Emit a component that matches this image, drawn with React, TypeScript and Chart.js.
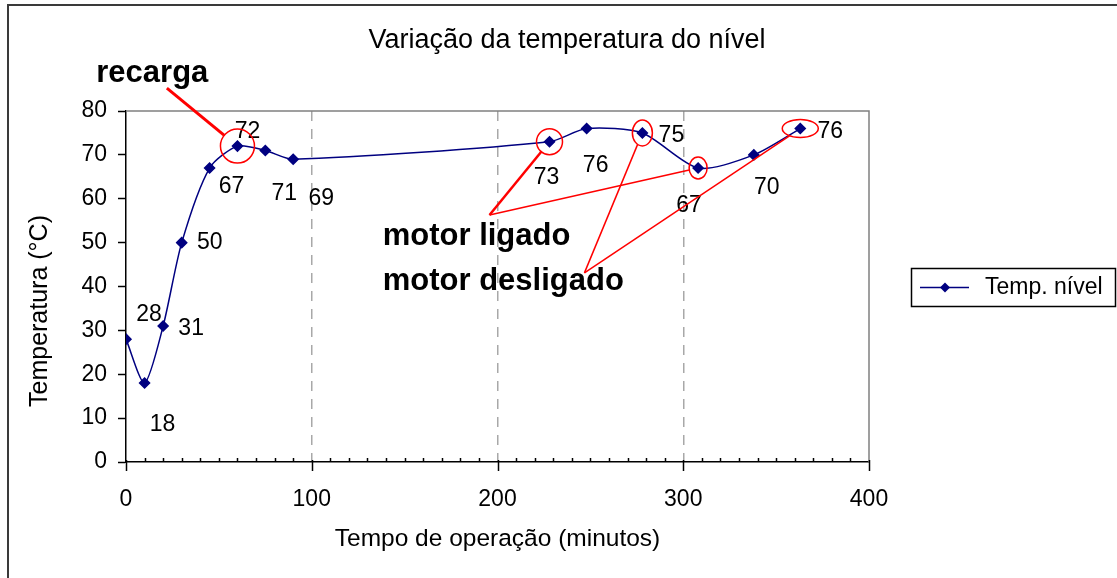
import React, { useEffect, useRef } from 'react';
import { Chart, registerables } from 'chart.js';

Chart.register(...registerables);

// ---- data ----
const times = [0, 10, 20, 30, 45, 60, 75, 90, 228, 248, 278, 308, 338, 363];
const temps = [28, 18, 31, 50, 67, 72, 71, 69, 73, 76, 75, 67, 70, 76];
const seriesName = 'Temp. nível';
const chartTitle = 'Variação da temperatura do nível';
const xAxisTitle = 'Tempo de operação (minutos)';
const yAxisTitle = 'Temperatura (°C)';
const xMin = 0;
const xMax = 400;
const xMajorStep = 100;
const xMinorStep = 10;
const yMin = 0;
const yMax = 80;
const yStep = 10;
const dashedGridValues = [100, 200, 300];

// data-label offsets (px) from each point
const labelOffsets: [number, number][] = [
  [23, -24], [18, 42], [28, 3], [28, 0], [22, 19], [10, -14], [19, 43],
  [28, 39], [-3, 36], [9, 37], [29, 3], [-9, 38], [13, 33], [30, 3],
];

// red rings around points (index, radii px)
const rings = [
  { i: 5, rx: 17, ry: 17 },
  { i: 8, rx: 13, ry: 13 },
  { i: 10, rx: 10, ry: 13 },
  { i: 11, rx: 9, ry: 11 },
  { i: 13, rx: 18, ry: 9 },
];

// callouts: text anchor and leader origin in data units
const callouts = [
  { text: 'recarga', tx: -16, ty: 86.6, fx: 22, fy: 85.2, targets: [5], widths: [3] },
  { text: 'motor ligado', tx: 138.2, ty: 49.5, fx: 195.7, fy: 56.3, targets: [8, 11], widths: [2.5, 1.5] },
  { text: 'motor desligado', tx: 138.2, ty: 39.2, fx: 246.8, fy: 43.1, targets: [10, 13], widths: [1.5, 1.5] },
];

const FONT = '"Liberation Sans", Arial, Helvetica, sans-serif';
const NAVY = '#000080';
const RED = '#ff0000';

export default function App() {
  const ref = useRef<HTMLCanvasElement>(null);

  useEffect(() => {
    const canvas = ref.current;
    if (!canvas) return;

    const ringFor = (i: number) => rings.find((r) => r.i === i);

    const decor = {
      id: 'decor',
      beforeDraw(chart: any) {
        const { ctx, width, height } = chart;
        ctx.save();
        ctx.fillStyle = '#ffffff';
        ctx.fillRect(0, 0, width, height);
        ctx.strokeStyle = '#3a3a3a';
        ctx.lineWidth = 2;
        ctx.beginPath();
        ctx.moveTo(8, height);
        ctx.lineTo(8, 5);
        ctx.lineTo(width, 5);
        ctx.stroke();
        ctx.restore();
      },
      beforeDatasetsDraw(chart: any) {
        const { ctx, chartArea: a } = chart;
        const xs = chart.scales.x;
        ctx.save();
        ctx.strokeStyle = '#808080';
        ctx.lineWidth = 1.5;
        ctx.beginPath();
        ctx.moveTo(a.left, a.top);
        ctx.lineTo(a.right, a.top);
        ctx.lineTo(a.right, a.bottom);
        ctx.stroke();
        ctx.strokeStyle = '#000';
        ctx.lineWidth = 1.5;
        for (let v = xMin; v <= xMax; v += xMinorStep) {
          const px = Math.round(xs.getPixelForValue(v)) + 0.5;
          const major = v % xMajorStep === 0;
          ctx.beginPath();
          ctx.moveTo(px, major ? a.bottom - 2 : a.bottom - 4);
          ctx.lineTo(px, major ? a.bottom + 9 : a.bottom);
          ctx.stroke();
        }
        ctx.restore();
      },
      afterDatasetsDraw(chart: any) {
        const { ctx, chartArea: a } = chart;
        const xs = chart.scales.x;
        const ys = chart.scales.y;
        const meta = chart.getDatasetMeta(0);
        ctx.save();

        // data labels
        ctx.fillStyle = '#000';
        ctx.font = `23px ${FONT}`;
        ctx.textAlign = 'center';
        ctx.textBaseline = 'middle';
        meta.data.forEach((pt: any, i: number) => {
          const [dx, dy] = labelOffsets[i] || [0, 0];
          ctx.fillText(String(temps[i]), pt.x + dx, pt.y + dy);
        });

        // rings
        ctx.strokeStyle = RED;
        ctx.lineWidth = 1.5;
        rings.forEach((r) => {
          const pt = meta.data[r.i];
          ctx.beginPath();
          ctx.ellipse(pt.x, pt.y, r.rx, r.ry, 0, 0, Math.PI * 2);
          ctx.stroke();
        });

        // callouts
        callouts.forEach((c) => {
          const ox = xs.getPixelForValue(c.fx);
          const oy = ys.getPixelForValue(c.fy);
          c.targets.forEach((ti, k) => {
            const pt = meta.data[ti];
            const r = ringFor(ti);
            let ex = pt.x;
            let ey = pt.y;
            if (r) {
              const dx = ox - pt.x;
              const dy = oy - pt.y;
              const s = 1 / Math.sqrt((dx / r.rx) ** 2 + (dy / r.ry) ** 2);
              ex = pt.x + dx * s;
              ey = pt.y + dy * s;
            }
            ctx.strokeStyle = RED;
            ctx.lineWidth = c.widths[k];
            ctx.beginPath();
            ctx.moveTo(ox, oy);
            ctx.lineTo(ex, ey);
            ctx.stroke();
          });
          ctx.fillStyle = '#000';
          ctx.font = `bold 31px ${FONT}`;
          ctx.textAlign = 'left';
          ctx.textBaseline = 'alphabetic';
          ctx.fillText(c.text, xs.getPixelForValue(c.tx), ys.getPixelForValue(c.ty));
        });

        // title
        ctx.fillStyle = '#000';
        ctx.font = `27px ${FONT}`;
        ctx.textAlign = 'center';
        ctx.textBaseline = 'middle';
        ctx.fillText(chartTitle, 567, 41);

        // y axis title
        ctx.save();
        ctx.translate(40, 311);
        ctx.rotate(-Math.PI / 2);
        ctx.font = `25px ${FONT}`;
        ctx.fillText(yAxisTitle, 0, 0);
        ctx.restore();

        // legend
        const cy = (a.top + a.bottom) / 2 + 1;
        const lx = a.right + 42;
        ctx.strokeStyle = '#000';
        ctx.lineWidth = 1.5;
        ctx.strokeRect(lx + 0.5, cy - 19, 204, 38);
        ctx.strokeStyle = NAVY;
        ctx.lineWidth = 1.5;
        ctx.beginPath();
        ctx.moveTo(lx + 9, cy);
        ctx.lineTo(lx + 58, cy);
        ctx.stroke();
        ctx.fillStyle = NAVY;
        ctx.beginPath();
        ctx.moveTo(lx + 34, cy - 5);
        ctx.lineTo(lx + 39, cy);
        ctx.lineTo(lx + 34, cy + 5);
        ctx.lineTo(lx + 29, cy);
        ctx.closePath();
        ctx.fill();
        ctx.fillStyle = '#000';
        ctx.font = `23px ${FONT}`;
        ctx.textAlign = 'left';
        ctx.textBaseline = 'middle';
        ctx.fillText(seriesName, lx + 74, cy);

        ctx.restore();
      },
    };

    const chart = new Chart(canvas, {
      type: 'line',
      data: {
        datasets: [
          {
            label: seriesName,
            data: times.map((t, i) => ({ x: t, y: temps[i] })),
            borderColor: NAVY,
            backgroundColor: NAVY,
            borderWidth: 1.5,
            pointStyle: 'rectRot',
            pointRadius: 5,
            pointBackgroundColor: NAVY,
            pointBorderColor: NAVY,
            tension: 0.25,
            fill: false,
          },
        ],
      },
      options: {
        responsive: false,
        animation: false,
        events: [],
        layout: { padding: { top: 111, right: 248, left: 0, bottom: 0 } },
        plugins: {
          legend: { display: false },
          title: { display: false },
          tooltip: { enabled: false },
        },
        scales: {
          x: {
            type: 'linear',
            min: xMin,
            max: xMax,
            afterFit: (s: any) => {
              s.height = 116;
            },
            ticks: {
              stepSize: xMinorStep,
              autoSkip: false,
              maxRotation: 0,
              padding: 24,
              color: '#000',
              font: { family: FONT, size: 23 },
              callback: (v: any) => (Number(v) % xMajorStep === 0 ? String(v) : ''),
            },
            grid: {
              drawTicks: false,
              lineWidth: 1.5,
              color: (ctx: any) =>
                ctx.tick && dashedGridValues.includes(ctx.tick.value) ? '#a8a8a8' : 'rgba(0,0,0,0)',
            },
            border: { color: '#000', width: 1.5, dash: [10, 8] },
            title: {
              display: true,
              text: xAxisTitle,
              color: '#000',
              font: { family: FONT, size: 24.5 },
              padding: { top: 0, bottom: 24 },
            },
          },
          y: {
            type: 'linear',
            min: yMin,
            max: yMax,
            afterFit: (s: any) => {
              s.width = 126;
            },
            ticks: {
              stepSize: yStep,
              padding: 11,
              color: '#000',
              font: { family: FONT, size: 23 },
            },
            grid: {
              drawOnChartArea: false,
              drawTicks: true,
              tickLength: 8,
              tickColor: '#000',
              tickWidth: 1.5,
            },
            border: { color: '#000', width: 1.5 },
          },
        },
      },
      plugins: [decor],
    } as any);

    return () => chart.destroy();
  }, []);

  return (
    <div style={{ position: 'fixed', left: 0, top: 0, width: 1117, height: 578, background: '#fff' }}>
      <canvas ref={ref} width={1117} height={578} style={{ display: 'block' }} />
    </div>
  );
}
